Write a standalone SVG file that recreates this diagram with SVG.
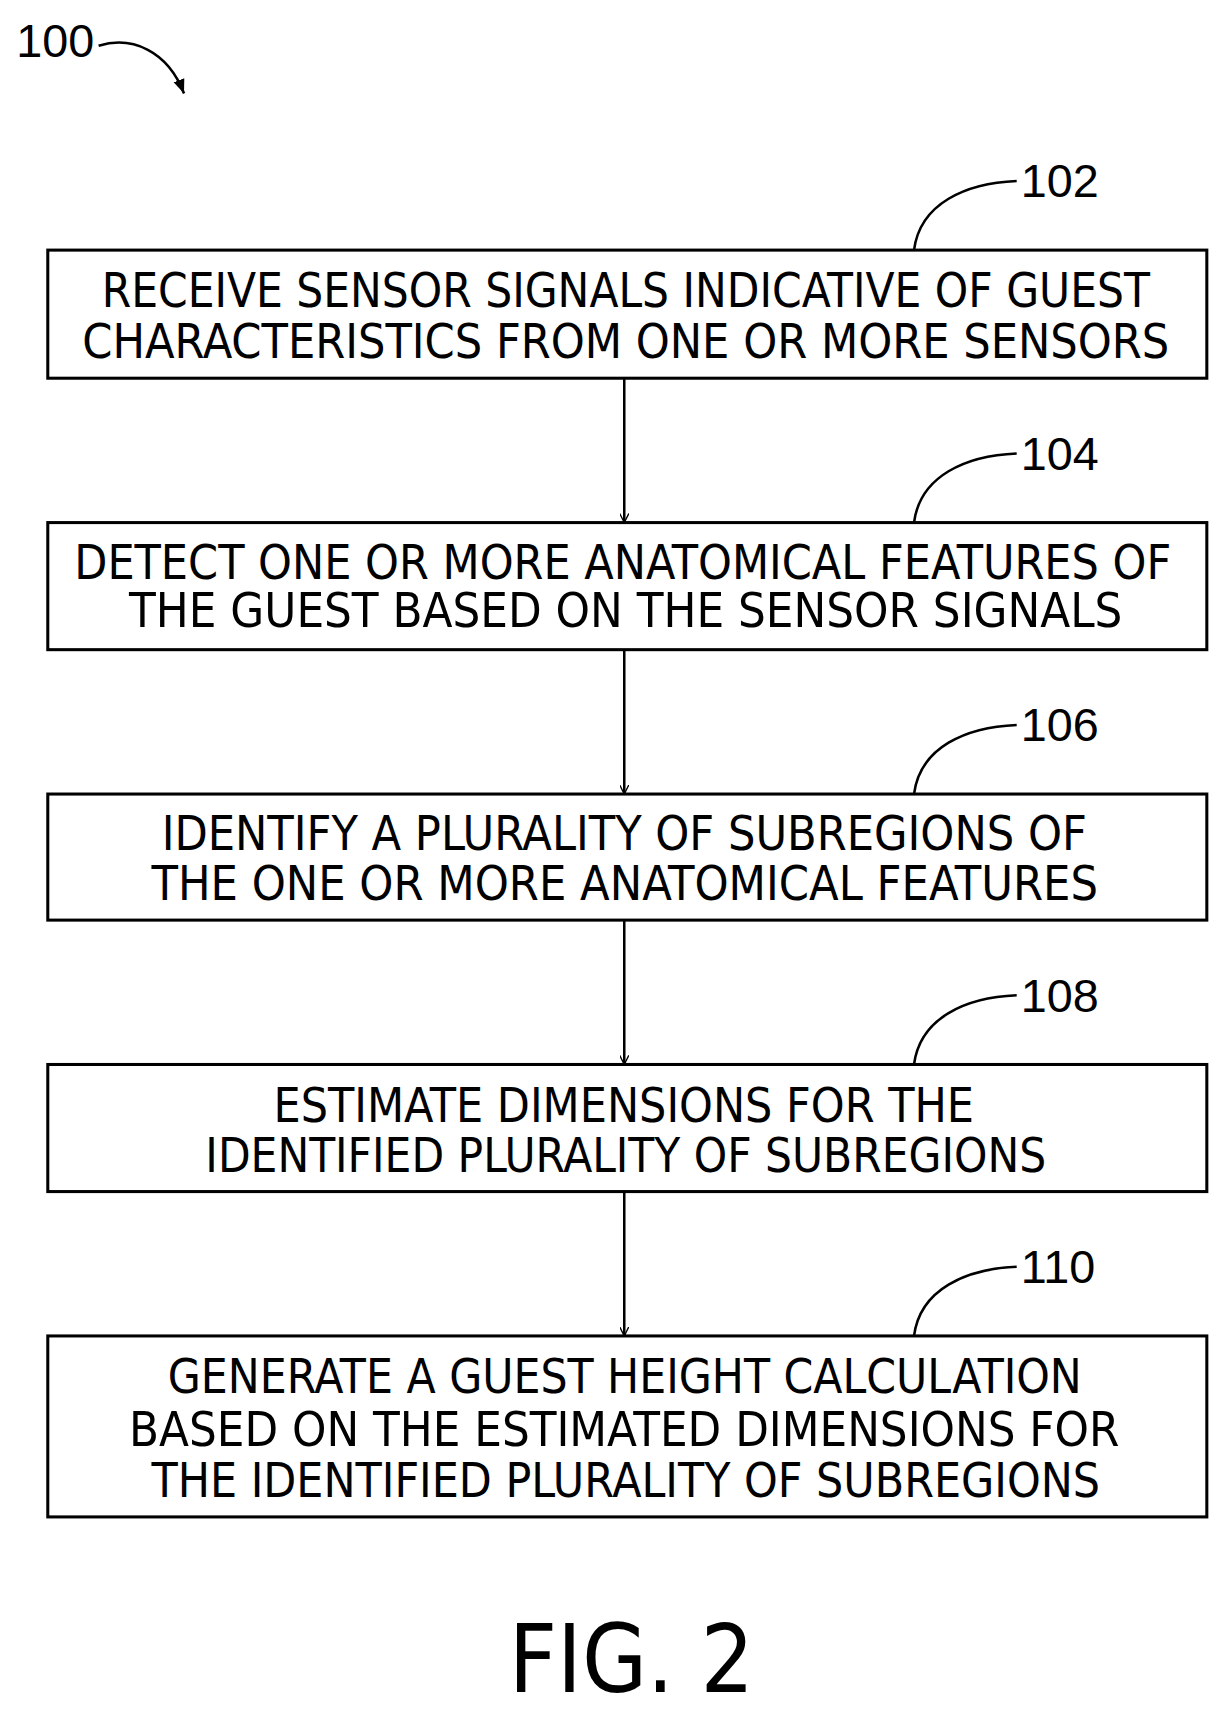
<svg xmlns="http://www.w3.org/2000/svg" width="1228" height="1717" viewBox="0 0 1228 1717">
<style>
.b{fill:#fff;stroke:#000;stroke-width:3}
.t{font-family:"DejaVu Sans Condensed","Liberation Sans",sans-serif;font-size:47px;fill:#000}
.l{fill:none;stroke:#000;stroke-width:2.5}
.n{font-family:"Liberation Sans",sans-serif;font-size:46px;fill:#000}
</style>
<defs><marker id="a" viewBox="0 0 10 10" refX="10" refY="5" markerWidth="9" markerHeight="9" orient="auto" markerUnits="userSpaceOnUse"><path d="M0,0L10,5L0,10" fill="none" stroke="#000" stroke-width="1.5"/></marker>
<marker id="a2" viewBox="0 0 10 10" refX="10" refY="5" markerWidth="14" markerHeight="14" orient="auto" markerUnits="userSpaceOnUse"><path d="M0,1L10,5L0,9Z" fill="#000"/></marker></defs>
<g transform="scale(1.0167)">
<text class="n" x="16" y="56">100</text>
<path class="l" d="M97,45 C130,35 165,50 181,92" marker-end="url(#a2)"/>
<g id="connectors">
<line class="l" x1="614" y1="372" x2="614" y2="514" marker-end="url(#a)"/>
<line class="l" x1="614" y1="639" x2="614" y2="781" marker-end="url(#a)"/>
<line class="l" x1="614" y1="905" x2="614" y2="1047" marker-end="url(#a)"/>
<line class="l" x1="614" y1="1172" x2="614" y2="1314" marker-end="url(#a)"/>
<path class="l" d="M899,246 C905,200 950,180 1000,178"/>
<path class="l" d="M899,514 C905,468 950,448 1000,446"/>
<path class="l" d="M899,781 C905,735 950,715 1000,713"/>
<path class="l" d="M899,1047 C905,1001 950,981 1000,979"/>
<path class="l" d="M899,1314 C905,1268 950,1248 1000,1246"/>
</g>
<g id="n102"><rect class="b" x="47" y="246" width="1140" height="126"/>
<text class="t" x="100" y="302" textLength="1031" lengthAdjust="spacingAndGlyphs">RECEIVE  SENSOR  SIGNALS  INDICATIVE  OF  GUEST</text>
<text class="t" x="81" y="352" textLength="1069" lengthAdjust="spacingAndGlyphs">CHARACTERISTICS  FROM   ONE  OR  MORE  SENSORS</text>
<text class="n" x="1004" y="194">102</text></g>
<g id="n104"><rect class="b" x="47" y="514" width="1140" height="125"/>
<text class="t" x="73" y="569" textLength="1079" lengthAdjust="spacingAndGlyphs">DETECT  ONE  OR  MORE  ANATOMICAL  FEATURES  OF</text>
<text class="t" x="127" y="617" textLength="977" lengthAdjust="spacingAndGlyphs">THE  GUEST  BASED  ON  THE  SENSOR  SIGNALS</text>
<text class="n" x="1004" y="462">104</text></g>
<g id="n106"><rect class="b" x="47" y="781" width="1140" height="124"/>
<text class="t" x="159" y="836" textLength="910" lengthAdjust="spacingAndGlyphs">IDENTIFY  A  PLURALITY  OF  SUBREGIONS  OF</text>
<text class="t" x="149" y="885" textLength="931" lengthAdjust="spacingAndGlyphs">THE  ONE  OR  MORE  ANATOMICAL  FEATURES</text>
<text class="n" x="1004" y="729">106</text></g>
<g id="n108"><rect class="b" x="47" y="1047" width="1140" height="125"/>
<text class="t" x="269" y="1104" textLength="689" lengthAdjust="spacingAndGlyphs">ESTIMATE  DIMENSIONS  FOR  THE</text>
<text class="t" x="202" y="1153" textLength="827" lengthAdjust="spacingAndGlyphs">IDENTIFIED  PLURALITY  OF  SUBREGIONS</text>
<text class="n" x="1004" y="995">108</text></g>
<g id="n110"><rect class="b" x="47" y="1314" width="1140" height="178"/>
<text class="t" x="165" y="1370" textLength="899" lengthAdjust="spacingAndGlyphs">GENERATE  A  GUEST  HEIGHT  CALCULATION</text>
<text class="t" x="127" y="1422" textLength="974" lengthAdjust="spacingAndGlyphs">BASED  ON  THE  ESTIMATED  DIMENSIONS  FOR</text>
<text class="t" x="149" y="1472" textLength="933" lengthAdjust="spacingAndGlyphs">THE  IDENTIFIED  PLURALITY  OF  SUBREGIONS</text>
<text class="n" x="1004" y="1262">110</text></g>
<text x="621" y="1664" text-anchor="middle" font-family="DejaVu Sans Condensed,Liberation Sans,sans-serif" font-size="92">FIG. 2</text>
</g>
</svg>
